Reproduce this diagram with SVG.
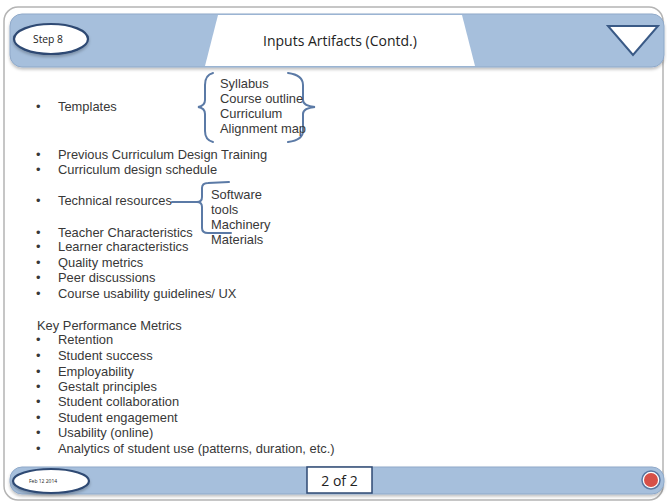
<svg xmlns="http://www.w3.org/2000/svg" width="667" height="503" viewBox="0 0 667 503">
  <defs>
    <style>
      .frame { fill: #ffffff; stroke: #b4b4b4; stroke-width: 1.5; }
      .bar { fill: #a6bfdc; stroke: #8fa9c9; stroke-width: 1; }
      .oval { fill: #ffffff; stroke: #2f4a73; stroke-width: 2.2; }
      .body { font-family: "Liberation Sans", Arial, sans-serif; font-size: 12.9px; fill: #383838; }
      .hdr { font-family: "Open Sans", "Liberation Sans", sans-serif; fill: #222222; }
      .brace { fill: none; stroke: #5b7aa6; stroke-width: 2; stroke-linecap: round; }
    </style>
    <filter id="sh" x="-5%" y="-20%" width="110%" height="150%">
      <feDropShadow dx="0" dy="2" stdDeviation="1.5" flood-color="#000" flood-opacity="0.25"/>
    </filter>
  </defs>

  <rect x="0" y="0" width="667" height="503" fill="#ffffff"/>
  <rect class="frame" x="4" y="7" width="659" height="493" rx="14"/>

  <g id="header">
    <rect class="bar" x="10" y="14" width="654" height="53" rx="12" filter="url(#sh)"/>
    <polygon points="218,15 462,15 475,66 205,66" fill="#ffffff"/>
    <text class="hdr" x="340" y="46" font-size="14" text-anchor="middle">Inputs Artifacts (Contd.)</text>
  </g>

  <g id="step8">
    <ellipse class="oval" cx="51" cy="39" rx="37" ry="15" filter="url(#sh)"/>
    <text class="hdr" x="33" y="42.5" font-size="10.3">Step 8</text>
  </g>

  <g id="menu-triangle">
    <polygon points="608,26 658,26 633,55" fill="#ffffff" stroke="#3a5a86" stroke-width="2" stroke-linejoin="miter"/>
  </g>

  <g id="footer">
    <rect class="bar" x="10" y="467" width="654" height="27" rx="12" filter="url(#sh)"/>
  </g>

  <g id="date">
    <ellipse class="oval" cx="51" cy="481" rx="38" ry="12" filter="url(#sh)"/>
    <text class="hdr" x="29" y="483" font-size="5">Feb 12 2014</text>
  </g>

  <g id="page">
    <rect x="307" y="467" width="65" height="26" fill="#ffffff" stroke="#2f4a73" stroke-width="1.5"/>
    <text class="hdr" x="339.5" y="485.5" font-size="14" text-anchor="middle">2 of 2</text>
  </g>

  <g id="record-button">
    <circle cx="651" cy="480" r="9" fill="#ffffff" stroke="#5a78a3" stroke-width="1.5"/>
    <circle cx="651" cy="480" r="7" fill="#d65048"/>
  </g>

  <g id="connectors">
    <path class="brace" d="M213,73 Q205,75 205,85 L205,100 Q205,106 198,107 Q205,108 205,114 L205,131 Q205,140 213,142"/>
    <path class="brace" d="M288,73 Q303,75 303,85 L303,100 Q303,106 315,107 Q303,108 303,114 L303,131 Q303,140 288,142"/>
    <path class="brace" d="M172,202 L197,202 Q202,202 202,197 L202,188 Q202,183 208,183 L229,182"/>
    <path class="brace" d="M197,202 Q202,202 202,207 L202,228 Q202,233 208,233 L231,233"/>
  </g>

  <g id="templates">
    <text class="body" x="36" y="111">•</text>
    <text class="body" x="58" y="111">Templates</text>
  </g>
  <g id="template-items">
    <text class="body" x="220" y="88">Syllabus</text>
    <text class="body" x="220" y="103">Course outline</text>
    <text class="body" x="220" y="118">Curriculum</text>
    <text class="body" x="220" y="133">Alignment map</text>
  </g>

  <g id="list1">
    <text class="body" x="36" y="159">•</text><text class="body" x="58" y="159">Previous Curriculum Design Training</text>
    <text class="body" x="36" y="174">•</text><text class="body" x="58" y="174">Curriculum design schedule</text>
    <text class="body" x="36" y="205">•</text><text class="body" x="58" y="205">Technical resources</text>
    <text class="body" x="36" y="237">•</text><text class="body" x="58" y="237">Teacher Characteristics</text>
    <text class="body" x="36" y="251">•</text><text class="body" x="58" y="251">Learner characteristics</text>
    <text class="body" x="36" y="267">•</text><text class="body" x="58" y="267">Quality metrics</text>
    <text class="body" x="36" y="282">•</text><text class="body" x="58" y="282">Peer discussions</text>
    <text class="body" x="36" y="298">•</text><text class="body" x="58" y="298">Course usability guidelines/ UX</text>
  </g>

  <g id="tech-items">
    <text class="body" x="211" y="199">Software</text>
    <text class="body" x="211" y="214">tools</text>
    <text class="body" x="211" y="229">Machinery</text>
    <text class="body" x="211" y="244">Materials</text>
  </g>

  <g id="kpm">
    <text class="body" x="37" y="330">Key Performance Metrics</text>
    <text class="body" x="36" y="344">•</text><text class="body" x="58" y="344">Retention</text>
    <text class="body" x="36" y="360">•</text><text class="body" x="58" y="360">Student success</text>
    <text class="body" x="36" y="376">•</text><text class="body" x="58" y="376">Employability</text>
    <text class="body" x="36" y="391">•</text><text class="body" x="58" y="391">Gestalt principles</text>
    <text class="body" x="36" y="406">•</text><text class="body" x="58" y="406">Student collaboration</text>
    <text class="body" x="36" y="422">•</text><text class="body" x="58" y="422">Student engagement</text>
    <text class="body" x="36" y="437">•</text><text class="body" x="58" y="437">Usability (online)</text>
    <text class="body" x="36" y="453">•</text><text class="body" x="58" y="453">Analytics of student use (patterns, duration, etc.)</text>
  </g>
</svg>
